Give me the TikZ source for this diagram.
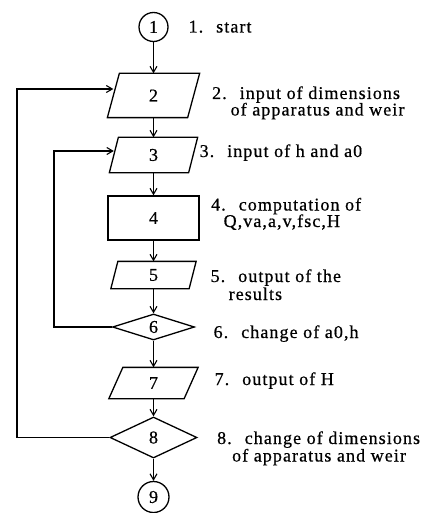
\documentclass[tikz,border=0pt]{standalone}
\usepackage{fontspec}
\setmainfont[LetterSpace=6,FakeBold=0.6]{Liberation Serif}
\usetikzlibrary{shapes.geometric,arrows.meta}
\newcommand{\gp}{\hspace{13pt}}
\newcommand{\paraline}[2]{\draw ([xshift=#2/2]#1.north west) -- ([xshift=#2/2]#1.north east) -- ([xshift=-#2/2]#1.south east) -- ([xshift=-#2/2]#1.south west) -- cycle;}
\begin{document}
\begin{tikzpicture}[x=1pt,y=-1pt,
  line width=1.3pt,
  every node/.style={font=\fontsize{18}{21}\selectfont, inner sep=0pt},
  arr/.style={-{Straight Barb[length=6pt,width=7pt,line width=1.1pt]}},
  para/.style={rectangle},
  lbl/.style={anchor=base west}]
\useasboundingbox (0,0) rectangle (423,513);
% shapes
\node[draw, circle, minimum size=29pt] (c1) at (153.5,27) {1};
\node[para, minimum width=79pt, minimum height=43pt] (p2) at (153.5,95.5) {2};
\paraline{p2}{12pt}
\node[para, minimum width=78pt, minimum height=34pt] (p3) at (153.5,155) {3};
\paraline{p3}{9pt}
\node[draw, rectangle, minimum width=91pt, minimum height=44pt] (b4) at (153.5,218) {4};
\node[para, minimum width=77pt, minimum height=26pt] (p5) at (153.5,275) {5};
\paraline{p5}{7pt}
\node[draw, diamond, aspect=3.15, minimum width=82pt, minimum height=26pt] (d6) at (153.5,327) {6};
\node[para, minimum width=74pt, minimum height=30pt] (p7) at (153.5,383) {7};
\paraline{p7}{14pt}
\node[draw, diamond, aspect=2.1, minimum width=87pt, minimum height=41pt] (d8) at (153.5,437.5) {8};
\node[draw, circle, minimum size=31pt] (c9) at (153.5,497) {9};
% loop columns
\coordinate (lx) at (17,0);
\coordinate (ix) at (54,0);
% connectors
\draw[arr] (c1) -- (p2);
\draw[arr] (p2) -- (p3);
\draw[arr] (p3) -- (b4);
\draw[arr] (b4) -- (p5);
\draw[arr] (p5) -- (d6);
\draw[arr] (d6) -- (p7);
\draw[arr] (p7) -- (d8);
\draw[arr] (d8) -- (c9);
\draw[arr] (d6.west) -- (d6.west -| ix) |- ([yshift=4pt]p3.west);
\draw[arr] (d8.west) -- (d8.west -| lx) |- ([yshift=6.5pt]p2.west);
% labels
\node[lbl] (t1) at (188,32.5) {1.\gp start};
\node[lbl] (t2a) at (211.5,99) {2.\gp input of dimensions};
\node[lbl] (t2b) at (230,115.5) {of apparatus and weir};
\node[lbl] (t3) at (199,157) {3.\gp input of h and a0};
\node[lbl] (t4a) at (210.5,210.5) {4.\gp computation of};
\node[lbl] (t4b) at (223,227) {Q,va,a,v,fsc,H};
\node[lbl] (t5a) at (210,282) {5.\gp output of the};
\node[lbl] (t5b) at (228,300) {results};
\node[lbl] (t6) at (213,338) {6.\gp change of a0,h};
\node[lbl] (t7) at (214,385) {7.\gp output of H};
\node[lbl] (t8a) at (216.5,444) {8.\gp change of dimensions};
\node[lbl] (t8b) at (231.5,461.5) {of apparatus and weir};
\end{tikzpicture}
\end{document}
